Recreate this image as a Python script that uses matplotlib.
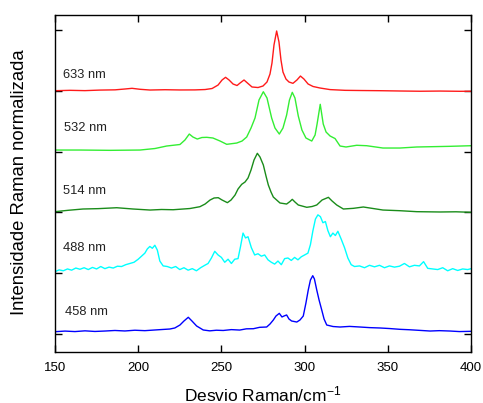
import matplotlib
matplotlib.use("Agg")
import matplotlib.pyplot as plt
import numpy as np

plt.rcParams['font.family'] = ['Liberation Sans', 'DejaVu Sans']
plt.rcParams['mathtext.fontset'] = 'custom'
plt.rcParams['mathtext.rm'] = 'Liberation Sans'
plt.rcParams['mathtext.it'] = 'Liberation Sans:italic'
plt.rcParams['mathtext.default'] = 'regular'

# ---- data (Raman shift in cm^-1, normalized intensity above own baseline) ----
labels = ["458 nm", "488 nm", "514 nm", "532 nm", "633 nm"]
colors = ["#0000ff", "#00ffff", "#1a8c1a", "#33ee33", "#ff1a1a"]
offsets = [0, 1, 2, 3, 4]

x_633 = [150.0, 159.0, 168.0, 177.0, 186.1, 192.1, 196.3, 201.1, 207.1, 216.1, 225.1, 234.1,
         240.2, 244.4, 248.0, 250.4, 252.5, 254.6, 257.0, 259.4, 261.2, 263.6, 266.0, 268.4,
         272.0, 275.0, 277.4, 279.2, 280.4, 281.6, 283.2, 284.6, 285.8, 287.0, 288.8, 290.6,
         293.0, 295.4, 297.5, 299.6, 302.1, 305.1, 309.3, 315.3, 324.3, 333.3, 345.3, 357.3,
         369.4, 381.4, 393.4, 400.0]
y_633 = [0.002, 0.008, 0.003, 0.012, 0.016, 0.030, 0.041, 0.025, 0.013, 0.018, 0.014, 0.015,
         0.021, 0.038, 0.095, 0.178, 0.222, 0.178, 0.112, 0.087, 0.128, 0.178, 0.120, 0.063,
         0.054, 0.079, 0.145, 0.276, 0.457, 0.753, 0.984, 0.803, 0.507, 0.309, 0.194, 0.145,
         0.123, 0.178, 0.243, 0.194, 0.112, 0.071, 0.046, 0.020, 0.008, 0.005, 0.002, -0.003,
         -0.007, -0.004, -0.008, -0.007]

x_532 = [150.0, 165.0, 183.1, 201.1, 210.1, 217.1, 225.1, 228.1, 230.7, 232.9, 235.5, 238.3,
         241.2, 244.9, 249.2, 253.2, 259.2, 262.4, 265.2, 267.8, 270.2, 272.6, 275.2, 277.4,
         280.2, 282.2, 284.8, 287.0, 289.2, 290.9, 292.6, 294.2, 296.2, 298.4, 300.8, 304.3,
         306.3, 307.5, 309.4, 311.2, 312.9, 315.3, 318.3, 321.3, 324.9, 331.3, 337.3, 347.1,
         357.3, 367.4, 387.4, 400.0]
y_532 = [0.026, 0.026, 0.021, 0.026, 0.051, 0.092, 0.117, 0.191, 0.289, 0.240, 0.207, 0.232,
         0.235, 0.224, 0.174, 0.120, 0.141, 0.174, 0.240, 0.388, 0.553, 0.849, 0.985, 0.882,
         0.553, 0.388, 0.289, 0.388, 0.602, 0.849, 0.975, 0.882, 0.586, 0.355, 0.224, 0.174,
         0.273, 0.454, 0.778, 0.454, 0.322, 0.257, 0.215, 0.092, 0.076, 0.104, 0.097, 0.059,
         0.059, 0.076, 0.087, 0.097]

x_514 = [150.0, 158.0, 166.8, 176.0, 187.1, 196.9, 207.1, 214.0, 221.0, 231.1, 237.1, 240.2,
         243.2, 245.6, 248.1, 250.4, 253.6, 255.8, 258.2, 260.0, 262.2, 264.2, 266.0, 267.8,
         269.6, 271.6, 273.2, 275.2, 276.8, 278.2, 279.8, 281.2, 285.2, 289.2, 291.2, 292.6,
         294.2, 296.2, 301.3, 304.5, 307.3, 310.5, 314.3, 316.5, 319.3, 323.3, 329.3, 335.3,
         347.1, 357.3, 367.4, 381.4, 391.0, 400.0]
y_514 = [0.012, 0.035, 0.056, 0.062, 0.077, 0.056, 0.039, 0.048, 0.044, 0.064, 0.094, 0.138,
         0.204, 0.237, 0.242, 0.204, 0.160, 0.204, 0.286, 0.385, 0.462, 0.500, 0.566, 0.697,
         0.862, 0.972, 0.911, 0.780, 0.599, 0.451, 0.336, 0.253, 0.155, 0.138, 0.179, 0.215,
         0.171, 0.122, 0.084, 0.097, 0.122, 0.204, 0.248, 0.188, 0.122, 0.056, 0.067, 0.089,
         0.039, 0.028, 0.012, 0.007, 0.010, 0.002]

x_488 = [150.0, 152.5, 155.0, 157.5, 160.0, 162.5, 165.0, 167.5, 170.0, 172.5, 175.0, 177.5,
         180.0, 182.5, 185.0, 187.5, 190.0, 192.5, 195.0, 197.5, 200.0, 202.0, 204.0, 205.5,
         207.0, 208.5, 210.0, 211.5, 213.0, 215.0, 217.5, 220.0, 222.5, 225.0, 227.5, 230.0,
         232.5, 235.0, 237.5, 240.0, 242.0, 244.0, 246.0, 248.0, 250.0, 252.0, 254.0, 256.0,
         258.0, 260.0, 261.5, 263.0, 264.5, 266.0, 268.0, 270.0, 272.0, 274.0, 276.0, 278.0,
         280.0, 282.0, 284.0, 286.0, 288.0, 290.0, 292.0, 294.0, 296.0, 298.0, 300.0, 302.0,
         303.5, 305.0, 306.5, 308.0, 309.5, 311.0, 312.5, 314.0, 315.5, 317.0, 318.5, 320.0,
         322.0, 324.0, 326.0, 328.0, 330.0, 333.0, 336.0, 339.0, 342.0, 345.0, 348.0, 351.0,
         354.0, 357.0, 360.0, 363.0, 366.0, 369.0, 371.5, 374.0, 377.0, 380.0, 383.0, 386.0,
         389.0, 392.0, 395.0, 398.0, 400.0]
y_488 = [0.025, 0.055, 0.040, 0.070, 0.050, 0.085, 0.065, 0.090, 0.060, 0.095, 0.070, 0.110,
         0.075, 0.100, 0.085, 0.115, 0.110, 0.140, 0.160, 0.180, 0.230, 0.280, 0.330, 0.400,
         0.440, 0.410, 0.460, 0.380, 0.200, 0.120, 0.110, 0.085, 0.110, 0.060, 0.090, 0.050,
         0.075, 0.040, 0.090, 0.130, 0.160, 0.250, 0.360, 0.300, 0.260, 0.180, 0.230, 0.160,
         0.230, 0.240, 0.440, 0.660, 0.580, 0.600, 0.420, 0.300, 0.320, 0.280, 0.300, 0.220,
         0.180, 0.150, 0.200, 0.140, 0.240, 0.250, 0.210, 0.260, 0.220, 0.270, 0.300, 0.330,
         0.470, 0.700, 0.890, 0.960, 0.930, 0.830, 0.850, 0.700, 0.600, 0.660, 0.620, 0.690,
         0.560, 0.420, 0.250, 0.140, 0.110, 0.120, 0.090, 0.130, 0.105, 0.130, 0.090, 0.120,
         0.100, 0.115, 0.160, 0.105, 0.130, 0.120, 0.190, 0.080, 0.070, 0.060, 0.090, 0.040,
         0.075, 0.045, 0.070, 0.060, 0.074]

x_458 = [150.0, 156.0, 162.0, 168.0, 174.0, 180.0, 186.0, 192.0, 198.0, 204.0, 210.0, 215.0,
         219.0, 222.0, 225.1, 227.5, 230.1, 232.3, 235.1, 239.1, 243.0, 247.0, 251.1, 256.0,
         261.0, 265.0, 269.2, 273.0, 277.2, 279.2, 281.2, 282.8, 284.8, 286.4, 287.6, 289.2,
         290.6, 292.2, 295.3, 297.2, 299.2, 300.8, 302.2, 303.5, 304.9, 305.9, 307.3, 308.7,
         310.3, 311.7, 313.3, 317.1, 321.3, 327.0, 333.3, 339.0, 345.3, 351.0, 357.3, 363.0,
         369.0, 375.4, 381.0, 387.4, 393.0, 400.0]
y_458 = [0.038, 0.048, 0.040, 0.052, 0.042, 0.049, 0.058, 0.050, 0.062, 0.055, 0.066, 0.075,
         0.082, 0.099, 0.148, 0.214, 0.275, 0.214, 0.132, 0.066, 0.052, 0.062, 0.058, 0.072,
         0.065, 0.085, 0.087, 0.110, 0.115, 0.164, 0.230, 0.296, 0.340, 0.280, 0.296, 0.313,
         0.247, 0.214, 0.197, 0.230, 0.296, 0.510, 0.724, 0.888, 0.959, 0.905, 0.724, 0.559,
         0.395, 0.247, 0.148, 0.123, 0.115, 0.125, 0.115, 0.105, 0.099, 0.090, 0.077, 0.070,
         0.060, 0.049, 0.055, 0.049, 0.040, 0.044]

xs = [x_458, x_488, x_514, x_532, x_633]
ys = [y_458, y_488, y_514, y_532, y_633]

x_ticks = [150, 200, 250, 300, 350, 400]
label_x = [156.2, 154.8, 154.8, 155.3, 154.8]
label_y = [0.367, 0.419, 0.352, 0.393, 0.26]

# ---- figure ----
fig = plt.figure(figsize=(4.83, 4.03), dpi=100)
ax = fig.add_axes([55 / 483, 1 - 352 / 403, 416 / 483, 337 / 403])

for x, y, off, c, lab, lx, ly in zip(xs, ys, offsets, colors, labels, label_x, label_y):
    ax.plot(x, np.asarray(y) + off, color=c, lw=1.0)
    ax.text(lx, off + ly, lab, fontsize=9.3, ha='left', va='center', color='#222222')

ax.set_xlim(150, 400)
ax.set_ylim(-0.296, 5.247)
ax.set_xticks(x_ticks)
ax.set_yticks(offsets + [5])
ax.set_yticklabels([])
ax.tick_params(direction='in', length=5, width=1.0, top=True, right=True,
               labelsize=9.5, pad=7, colors='black')
for s in ax.spines.values():
    s.set_linewidth(1.0)

fig.text(263 / 483, 1 - 394 / 403, 'Desvio Raman/cm$^{-1}$', ha='center', va='center', fontsize=12.5)
fig.text(20 / 483, 1 - 182 / 403, 'Intensidade Raman normalizada', ha='center', va='center',
         rotation=90, fontsize=13.3)

fig.savefig('out.png', dpi=100)
